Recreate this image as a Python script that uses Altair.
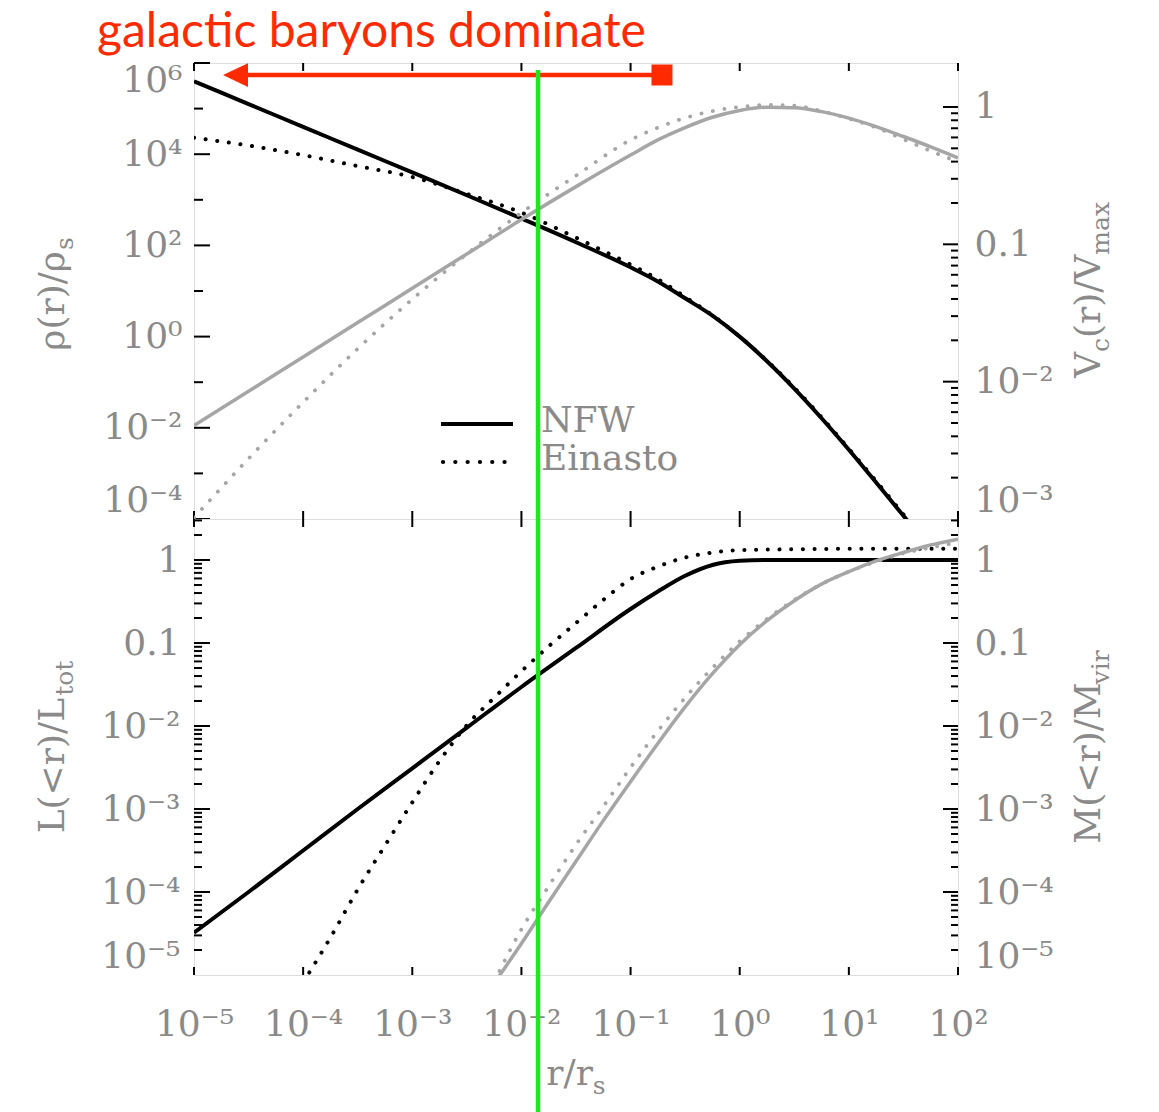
import math
import altair as alt
import pandas as pd

FONT = "DejaVu Serif"
GREY = "#8a8a8a"
LINE_GREY = "#a6a6a6"
RED = "#ff2a00"
GREEN = "#1fe61f"
W, H = 764, 456

# ---------------- data: log10(r/r_s) and log10 of each curve ----------------
LOGR = [-5, -4.5, -4, -3.5, -3, -2.5, -2, -1.5, -1, -0.75, -0.5, -0.25, 0, 0.25, 0.5, 0.75, 1, 1.25, 1.5, 1.75, 2]
LOG_RHO_NFW = [5.60, 5.10, 4.60, 4.10, 3.60, 3.10, 2.59, 2.07, 1.52, 1.21, 0.84, 0.46, 0.0, -0.54, -1.14, -1.79, -2.48, -3.20, -3.93, -4.66, -5.41]
LOG_RHO_EIN = [4.36, 4.19, 3.98, 3.74, 3.50, 3.13, 2.72, 2.17, 1.58, 1.26, 0.87, 0.47, 0.0, -0.53, -1.12, -1.77, -2.46, -3.17, -3.90, -4.65, -5.40]
LOG_VC_NFW = [-2.32, -2.07, -1.82, -1.57, -1.32, -1.07, -0.82, -0.58, -0.35, -0.24, -0.15, -0.075, -0.025, -0.002, -0.006, -0.034, -0.081, -0.143, -0.215, -0.29, -0.37]
LOG_VC_EIN = [-2.99, -2.56, -2.15, -1.76, -1.40, -1.07, -0.77, -0.50, -0.24, -0.15, -0.08, -0.03, 0.0, 0.015, 0.01, -0.03, -0.085, -0.15, -0.235, -0.32, -0.40]

LOG_L_NFW = [-4.49, -4.00, -3.50, -3.00, -2.51, -2.02, -1.53, -1.06, -0.59, -0.38, -0.19, -0.06, -0.01, 0.0, 0.0, 0.0, 0.0, 0.0, 0.0, 0.0, 0.0]
LOGR_L_EIN = [-4, -3.75, -3.5, -3.25, -3, -2.75, -2.5, -2.25, -2, -1.75, -1.5, -1.25, -1, -0.75, -0.5, -0.25, 0, 0.5, 1, 1.5, 2]
LOG_L_EIN = [-5.09, -4.55, -3.97, -3.44, -2.92, -2.42, -1.99, -1.66, -1.34, -1.04, -0.76, -0.48, -0.23, -0.08, 0.03, 0.09, 0.12, 0.13, 0.135, 0.135, 0.135]
LOGR_M = [-2.25, -2, -1.75, -1.5, -1.25, -1, -0.75, -0.5, -0.25, 0, 0.25, 0.5, 0.75, 1, 1.25, 1.5, 1.75, 2]
LOG_M_NFW = [-5.10, -4.62, -4.12, -3.63, -3.14, -2.67, -2.21, -1.77, -1.37, -1.02, -0.73, -0.49, -0.29, -0.14, -0.01, 0.09, 0.18, 0.25]
LOG_M_EIN = [-5.08, -4.45, -3.93, -3.43, -2.97, -2.50, -2.06, -1.66, -1.30, -0.98, -0.71, -0.48, -0.29, -0.14, -0.02, 0.08, 0.15, 0.21]

GREEN_R = [0.0142]          # vertical green marker
ARROW_HEAD_R = [2.4e-5]     # red arrow head
ARROW_END_R = [0.194]       # red square end

# ---------------- ticks and labels ----------------
X_TICKS = [1e-5, 1e-4, 1e-3, 1e-2, 1e-1, 1.0, 1e1, 1e2]
X_LABELS = ["10⁻⁵", "10⁻⁴", "10⁻³", "10⁻²", "10⁻¹", "10⁰", "10¹", "10²"]
RHO_TICKS = [1e6, 1e4, 1e2, 1.0, 1e-2, 1e-4]
RHO_LABELS = ["10⁶", "10⁴", "10²", "10⁰", "10⁻²", "10⁻⁴"]
RHO_MINOR = [1e5, 1e3, 1e1, 1e-1, 1e-3]
VC_TICKS = [1.0, 0.1, 0.01, 0.001]
VC_LABELS = ["1", "0.1", "10⁻²", "10⁻³"]
VC_MAJOR = [1.0, 0.1, 0.01]
VC_MINOR = [k * 10.0 ** e for e in (-3, -2, -1) for k in range(2, 10)]
FR_TICKS = [1.0, 0.1, 0.01, 1e-3, 1e-4, 1e-5]
FR_LABELS = ["1", "0.1", "10⁻²", "10⁻³", "10⁻⁴", "10⁻⁵"]
FR_MAJOR = [1.0, 0.1, 0.01, 1e-3, 1e-4]
FR_MINOR = [k * 10.0 ** e for e in (-5, -4, -3, -2, -1) for k in range(2, 10)] + [2.0, 3.0]

XS = alt.Scale(type="log", domain=[1e-5, 1e2], nice=False)
RHO_S = alt.Scale(type="log", domain=[1e-4, 1e6], nice=False)
VC_S = alt.Scale(type="log", domain=[1e-3, 2.09], nice=False)
FR_S = alt.Scale(type="log", domain=[1e-5, 3.12], nice=False)


def label_expr(vals, labels):
    expr = "''"
    for v, lab in zip(vals, labels):
        e = round(math.log10(v))
        expr = f"(round(log(datum.value)/LN10) == {e}) ? '{lab}' : {expr}"
    return expr


def yaxis(vals, labels, orient, pad):
    return alt.Axis(orient=orient, values=vals, labelExpr=label_expr(vals, labels), ticks=False,
                    domain=False, grid=False, labelPadding=pad, labelFlush=True, labelOverlap=False,
                    title=None, labelFont=FONT, labelFontSize=36, labelColor=GREY)


XAX_B = alt.Axis(values=X_TICKS, labelExpr=label_expr(X_TICKS, X_LABELS), ticks=False, domain=False,
                 grid=False, labelPadding=32, labelFlush=False, labelOverlap=False, title=None,
                 labelFont=FONT, labelFontSize=36, labelColor=GREY)
RHO_AX = yaxis(RHO_TICKS, RHO_LABELS, "left", 12)
VC_AX = yaxis(VC_TICKS, VC_LABELS, "right", 16)
L_AX = yaxis(FR_TICKS, FR_LABELS, "left", 14)
M_AX = yaxis(FR_TICKS, FR_LABELS, "right", 16)


def curve(logr, logv):
    return pd.DataFrame({"r": [10.0 ** a for a in logr], "v": [10.0 ** b for b in logv]})


def line(df, ys, yax, xax, dotted=False, color="black", width=4.0):
    kw = dict(color=color, strokeWidth=width, clip=True, interpolate="monotone")
    if dotted:
        kw.update(strokeDash=[0.1, 11.6], strokeCap="round")
    return alt.Chart(df).mark_line(**kw).encode(
        x=alt.X("r:Q", scale=XS, axis=xax), y=alt.Y("v:Q", scale=ys, axis=yax))


def xtick_rules(xax):
    d = pd.DataFrame({"t": X_TICKS})
    ex = alt.X("t:Q", scale=XS, axis=xax)
    a = alt.Chart(d).mark_rule(color="black", strokeWidth=2).encode(x=ex, y=alt.value(0), y2=alt.value(8))
    b = alt.Chart(d).mark_rule(color="black", strokeWidth=2).encode(x=ex, y=alt.value(H - 8), y2=alt.value(H))
    return [a, b]


def ytick_rules(vals, ys, yax, side, length):
    d = pd.DataFrame({"t": vals})
    x0, x1 = (0, length) if side == "left" else (W - length, W)
    return alt.Chart(d).mark_rule(color="black", strokeWidth=2).encode(
        y=alt.Y("t:Q", scale=ys, axis=yax), x=alt.value(x0), x2=alt.value(x1))


ONE = pd.DataFrame({"k": [0]})


def txt(s, x, y, size=36, angle=0, align="left", baseline="alphabetic", color=GREY, font=FONT):
    return alt.Chart(ONE).mark_text(text=s, fontSize=size, font=font, angle=angle, align=align,
                                    baseline=baseline, color=color).encode(x=alt.value(x), y=alt.value(y))


# approximate DejaVu Serif advance widths (em)
WID = {"(": 0.39, ")": 0.39, "r": 0.478, "/": 0.337, "ρ": 0.60, "<": 0.838, "L": 0.694, "M": 0.995,
       "V": 0.722, "c": 0.56, "s": 0.513, "t": 0.402, "o": 0.602, "v": 0.565, "i": 0.32, "m": 0.948,
       "a": 0.596, "x": 0.564}


def seg_w(s, size):
    return sum(WID[c] for c in s) * size


def rot_title(segs, xb, yc, size=36, sub=25, shift=9):
    total = sum(seg_w(t, sub if s else size) for t, s in segs)
    y = yc + total / 2
    out = []
    for t, s in segs:
        fs = sub if s else size
        out.append(txt(t, xb + (shift if s else 0), y, fs, angle=270))
        y -= seg_w(t, fs)
    return out


def hor_title(segs, xc, yb, size=36, sub=25, shift=9):
    total = sum(seg_w(t, sub if s else size) for t, s in segs)
    x = xc - total / 2
    out = []
    for t, s in segs:
        fs = sub if s else size
        out.append(txt(t, x, yb + (shift if s else 0), fs))
        x += seg_w(t, fs)
    return out


# ---------------- top panel ----------------
rho_nfw = line(curve(LOGR, LOG_RHO_NFW), RHO_S, RHO_AX, None)
rho_ein = line(curve(LOGR, LOG_RHO_EIN), RHO_S, RHO_AX, None, dotted=True)
vc_nfw = line(curve(LOGR, LOG_VC_NFW), VC_S, VC_AX, None, color=LINE_GREY, width=3.5)
vc_ein = line(curve(LOGR, LOG_VC_EIN), VC_S, VC_AX, None, dotted=True, color=LINE_GREY, width=3.8)

arrow_df = pd.DataFrame({"r": ARROW_HEAD_R, "r2": ARROW_END_R})
arrow_line = alt.Chart(arrow_df).mark_rule(color=RED, strokeWidth=4.5).encode(
    x=alt.X("r:Q", scale=XS, axis=None), x2="r2:Q", y=alt.value(12))
arrow_head = alt.Chart(pd.DataFrame({"r": ARROW_HEAD_R})).mark_point(
    shape="M-1,0L1,-0.95L1,0.95Z", size=625, filled=True, color=RED, opacity=1).encode(
    x=alt.X("r:Q", scale=XS, axis=None), y=alt.value(12))
arrow_end = alt.Chart(pd.DataFrame({"r": ARROW_END_R})).mark_point(
    shape="square", size=441, filled=True, color=RED, opacity=1).encode(
    x=alt.X("r:Q", scale=XS, axis=None), y=alt.value(12))

leg_solid = alt.Chart(ONE).mark_rule(color="black", strokeWidth=4).encode(
    x=alt.value(247), x2=alt.value(319), y=alt.value(361))
leg_dot = alt.Chart(ONE).mark_rule(color="black", strokeWidth=4.2, strokeDash=[0.1, 12.2], strokeCap="round").encode(
    x=alt.value(249), x2=alt.value(312), y=alt.value(399))
leg_t1 = txt("NFW", 347, 358, 36, baseline="middle")
leg_t2 = txt("Einasto", 347, 396, 36, baseline="middle")

left_top = alt.layer(
    rho_nfw, rho_ein,
    ytick_rules(RHO_TICKS, RHO_S, RHO_AX, "left", 16),
    ytick_rules(RHO_MINOR, RHO_S, RHO_AX, "left", 9),
    *xtick_rules(None),
    leg_solid, leg_dot, leg_t1, leg_t2,
)
right_top = alt.layer(
    vc_nfw, vc_ein,
    ytick_rules(VC_MAJOR, VC_S, VC_AX, "right", 15),
    ytick_rules(VC_MINOR, VC_S, VC_AX, "right", 7),
)
top = alt.layer(
    left_top, right_top,
    arrow_line, arrow_head, arrow_end,
    *rot_title([("ρ(r)/ρ", False), ("s", True)], -130, 231),
    *rot_title([("V", False), ("c", True), ("(r)/V", False), ("max", True)], 906, 227),
).resolve_scale(y="independent").properties(width=W, height=H)

# ---------------- bottom panel ----------------
l_nfw = line(curve(LOGR, LOG_L_NFW), FR_S, L_AX, XAX_B)
l_ein = line(curve(LOGR_L_EIN, LOG_L_EIN), FR_S, L_AX, XAX_B, dotted=True)
m_nfw = line(curve(LOGR_M, LOG_M_NFW), FR_S, M_AX, XAX_B, color=LINE_GREY, width=3.5)
m_ein = line(curve(LOGR_M, LOG_M_EIN), FR_S, M_AX, XAX_B, dotted=True, color=LINE_GREY, width=3.8)

left_bot = alt.layer(
    l_nfw, l_ein,
    ytick_rules(FR_MAJOR, FR_S, L_AX, "left", 16),
    ytick_rules(FR_MINOR, FR_S, L_AX, "left", 8),
    *xtick_rules(XAX_B),
)
right_bot = alt.layer(
    m_nfw, m_ein,
    ytick_rules(FR_MAJOR, FR_S, M_AX, "right", 15),
    ytick_rules(FR_MINOR, FR_S, M_AX, "right", 7),
)
green = alt.Chart(pd.DataFrame({"r": GREEN_R})).mark_rule(color=GREEN, strokeWidth=4.5).encode(
    x=alt.X("r:Q", scale=XS, axis=XAX_B), y=alt.value(-449), y2=alt.value(597))

bottom = alt.layer(
    left_bot, right_bot,
    *rot_title([("L(<r)/L", False), ("tot", True)], -130, 228),
    *rot_title([("M(<r)/M", False), ("vir", True)], 906, 228),
    *hor_title([("r/r", False), ("s", True)], 382, 566),
    green,
).resolve_scale(y="independent").properties(width=W, height=H)

chart = alt.vconcat(top, bottom, spacing=0, bounds="flush").properties(
    title=alt.TitleParams("galactic baryons dominate", anchor="start", frame="group", dx=-97,
                          offset=-33, font="Lato", fontSize=48, fontWeight="normal", color=RED,
                          baseline="alphabetic"),
    padding={"left": 26, "top": 0, "right": 5, "bottom": 0},
).configure_view(stroke="black", strokeWidth=2.5).configure(background="white")

chart.save("out.html", embed_options={"renderer": "svg", "actions": False})
